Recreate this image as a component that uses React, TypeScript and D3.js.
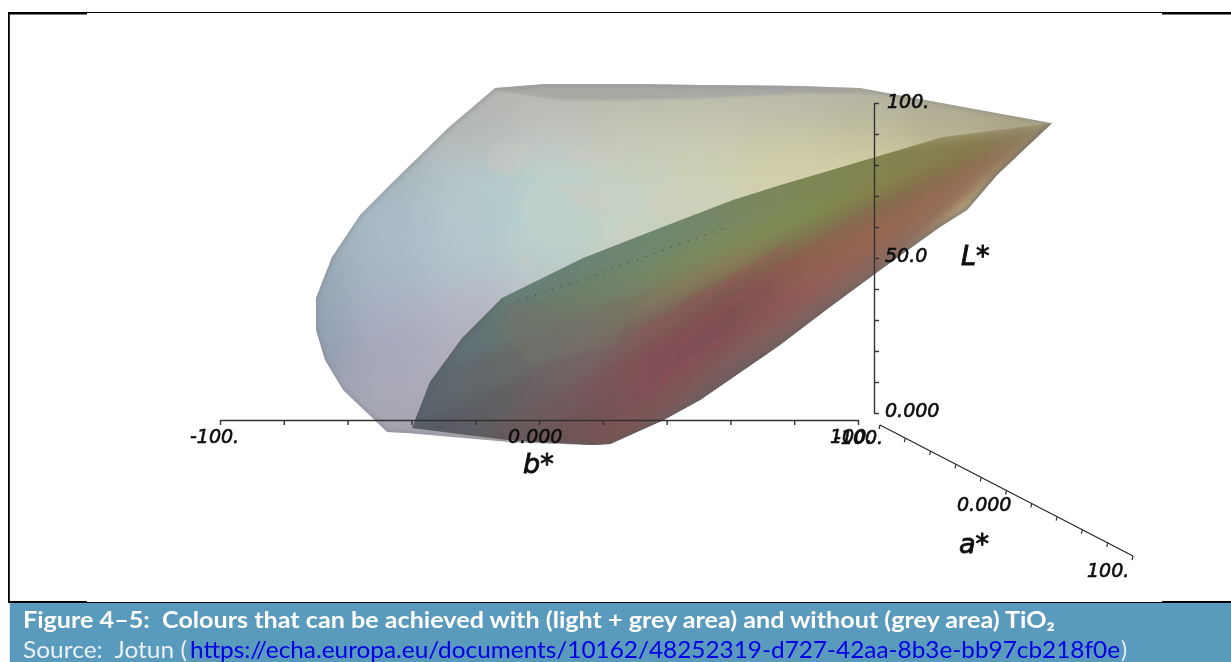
import * as d3 from 'd3'
import {useRef, useEffect} from 'react'

const svgWidth = 1231
const svgHeight = 662

// axis tick values
const bTicks = d3.range(-100, 101, 20)
const lTicks = d3.range(0, 101, 10)
const aTicks = d3.range(-100, 101, 20)

// outline of the light + grey body, [b*, L*] as read against the two front axes
const lightOutline: [number, number][] = [
  [-13.8,104.8],[-6,105.5],[1.9,106.1],[31.7,106.1],[50.5,105.8],[81.8,105.5],[100.6,104.8],[109.1,103.2],
  [160.8,93.5],[143.6,76.8],[134.2,65.5],[125.7,60],[107.8,46.8],[91.2,34.2],[75.5,21.9],[50.5,4.2],[38.9,-2.3],
  [22.3,-10],[16,-10.3],[-8.2,-9.4],[-40.4,-6.5],[-47.6,-6.1],[-61.4,7.4],[-67.1,17.1],[-69.9,26.8],[-69.9,37.1],
  [-64.9,50.3],[-56.1,63.9],[-45.8,74.5],[-28.5,91.9]
]
// grey body (no TiO2)
const greyOutline: [number, number][] = [
  [-11.6,37.1],[13.8,50],[42,61.3],[60.8,68.7],[75.5,73.5],[104.7,82.3],[126.6,89],[160.8,93.5],
  [143.6,76.8],[134.2,65.5],[125.7,60],[107.8,46.8],[91.2,34.2],[75.5,21.9],[50.5,4.2],[38.9,-2.3],
  [22.3,-10],[16.9,-10.3],[-10,-8.7],[-39.8,-4.8],[-34.2,10],[-24.1,24.2]
]
const greyLowerEdge: [number, number][] = [
  [160.8,93.5],[143.6,76.8],[134.2,65.5],[125.7,60],[107.8,46.8],[91.2,34.2],[75.5,21.9],[50.5,4.2],[38.9,-2.3],
  [22.3,-10],[16.9,-10.3],[-10,-8.7],[-39.8,-4.8],[-34.2,10],[-24.1,24.2],[-11.6,37.1]
]
const topBand: [number, number][] = [
  [-13.8,104.8],[-6,105.5],[1.9,106.1],[31.7,106.1],[50.5,105.8],[81.8,105.5],[109.1,103.2],
  [81.8,103],[50.5,101.5],[22,100.8],[6.5,101],[-13.8,104]
]

// colours of the light body on a b*/L* lattice
const lightB = [-75, -45, -20, 5, 30, 55, 80, 105, 130, 155]
const lightL = [105, 92, 79, 66, 53, 40, 27, 14, 0]
const lightColours = [
  ['#b4b4b2','#b4b4b2','#b4b4b2','#b8b8b2','#b8b8ae','#b8b8aa','#b8b6a8','#b4b2a2','#aeaa98','#aaa48c'],
  ['#a8b0b2','#a8b0b2','#b4b8b6','#bfc0ba','#c4c4b4','#c6c6b0','#c2c2a8','#bcbb9e','#b2ae92','#aaa488'],
  ['#a4b0b6','#a8b4b8','#b8c4c6','#c0d0cc','#c6d0c0','#ced0b4','#d2d0aa','#d4d0a4','#c8c290','#b0a680'],
  ['#9cacb6','#a8bcc6','#b2c8cc','#bed2cc','#c4d2c4','#ccd2ba','#d2d0aa','#d2d0aa','#c8c290','#b0a680'],
  ['#98a8b6','#aabbc8','#b4c6cc','#bcd0cc','#c6d2c0','#ccd0b8','#ccd0b8','#ccd0b8','#c8c290','#b0a680'],
  ['#96a6b4','#a8b4c4','#b4bcc8','#bcc4c6','#c0c8c0','#ccd0b8','#ccd0b8','#ccd0b8','#c8c290','#b0a680'],
  ['#92a2b2','#a8acc0','#b4b2c0','#b8b8c0','#b8b8c0','#b8b8c0','#b8b8c0','#b8b8c0','#b8b8c0','#b8b8c0'],
  ['#929cae','#a6a6b8','#acacba','#acacba','#acacba','#acacba','#acacba','#acacba','#acacba','#acacba'],
  ['#989cac','#a4a4b0','#a8a8b0','#a8a8b0','#a8a8b0','#a8a8b0','#a8a8b0','#a8a8b0','#a8a8b0','#a8a8b0'],
]

// faint facets on the light body
const paleFacets: [number, number][][] = [
  [[-15.4,87.1],[-1.9,87.1],[-8.2,75.2],[-16.3,78.4]],
  [[9.7,85.5],[26.9,85.8],[25.4,80.6],[8.8,80.6]],
  [[5.1,72.9],[21.4,72.9],[22.9,65.5],[15.1,65.5]],
  [[32.9,72.9],[43.6,72.9],[48.6,63.2],[36,61.3]],
  [[24.1,61.3],[31.3,61.3],[30.7,54.8],[24.4,52]],
  [[-5.9,50],[-0.6,51.3],[-5.9,46.1]],
]
const tealFacet: [number, number][] = [[-18.8,78.4],[0,76.5],[-6,69],[-6,60],[-18.8,56]]

// grey body is painted as fans running out of the white point
const tipPoint: [number, number] = [160.8, 93.5]
const fanEnds = [70, 36.5, 22, 7.4, -7, -21.6, -36, -50.6, -65, -100] // L* where each ray meets b* = -45
const fanEndB = -45
const fanStops = [-40, -15, 10, 35, 60, 85, 110, 135, 160]
const fanColours = [
  ['#647d78','#647d78','#698273','#6e876e','#788764','#7d8755','#828250','#877d50','#8c8260'],
  ['#647d78','#647d78','#698273','#6e876e','#788764','#7d8755','#828250','#877d50','#8c8260'],
  ['#5a6973','#647373','#6e7d69','#738764','#7d8c5a','#7d8c50','#87824b','#82784b','#8c8260'],
  ['#586470','#646969','#706e69','#7d785f','#877d55','#7d7d50','#82734b','#87734b','#8c8260'],
  ['#555a64','#5f5f64','#736464','#7d5f5a','#825a50','#876450','#876950','#8c6e50','#8c7a5c'],
  ['#555a64','#645a5a','#735a5c','#825055','#7d5050','#915f50','#916950','#916c50','#8c7a5c'],
  ['#5f5a5f','#6e5555','#6e5555','#825058','#7d5055','#915f55','#966950','#966e55','#8c7a5c'],
  ['#6e5555','#6e5555','#735555','#7d5555','#825a5a','#915a55','#966955','#9b735a','#8c7a5c'],
  ['#6e5a5a','#6e5a5a','#6e5a5a','#735f5f','#735f5f','#7d645f','#87695f','#96735a','#8c7a5c'],
]

// brownish facet under the green part and the red streaks
const brownFacet: [number, number][] = [[-9.1,35.5],[22.3,34.2],[30,37],[23.8,22],[-2.8,15.5],[-12.2,26.8]]
const redStreaks: [number, number][][] = [
  [[81.8,50],[61,36],[44,22]],
  [[81.8,40],[60,26],[38,10]],
  [[78,54],[56,40],[30,24]],
]

// row of tiny dots close to the upper grey edge
const dotLine: [number, number][] = [[-6.6,36.1],[15,43.5],[47,55.6],[58,59.6]]

const captionTitle = 'Figure 4–5:\u00a0\u00a0Colours that can be achieved with (light + grey area) and without (grey area) TiO₂'
const captionSource = 'Source:\u00a0\u00a0Jotun ('
const captionLink = 'https://echa.europa.eu/documents/10162/48252319-d727-42aa-8b3e-bb97cb218f0e'

// text, left, baseline, size
const axisLabels: [string, number, number, number][] = [
  ['-100.', 190, 443, 19],
  ['0.000', 508, 443, 19],
  ['100.', 830, 443, 19],
  ['-100.', 834, 444, 19],
  ['100.', 887, 108, 19],
  ['50.0', 885, 262, 19],
  ['0.000', 885, 417, 19],
  ['0.000', 957, 511, 19],
  ['100.', 1087, 577, 19],
  ['b*', 523, 473, 27],
  ['L*', 961, 265, 27],
  ['a*', 959, 553, 27],
]

export default function App() {
  const svgRef = useRef<SVGSVGElement>(null)

  useEffect(() => {
    const SVG = d3.select(svgRef.current)
    SVG.selectAll('*').remove()

    const bScale = d3.scaleLinear().domain([-100, 100]).range([220, 858])
    const lScale = d3.scaleLinear().domain([0, 100]).range([413, 103])
    const aX = d3.scaleLinear().domain([-100, 100]).range([880, 1133])
    const aY = d3.scaleLinear().domain([-100, 100]).range([425, 556])

    const line = (pts: [number, number][]) =>
      d3.line()(pts.map(([b, l]) => [bScale(b), lScale(l)] as [number, number]))
    const path = (pts: [number, number][]) => line(pts) + 'Z'

    const defs = SVG.append('defs')
    const blur = (id: string, dev: number) =>
      defs.append('filter').attr('id', id)
        .attr('filterUnits', 'userSpaceOnUse')
        .attr('x', 0).attr('y', 0).attr('width', svgWidth).attr('height', svgHeight)
        .append('feGaussianBlur').attr('stdDeviation', dev)
    blur('blurBig', 20)
    blur('blurMid', 7)
    blur('blurEdge', 2)
    blur('blurSoft', 0.8)
    blur('blurFacet', 2.5)
    blur('blurText', 0.4)

    defs.append('clipPath').attr('id', 'clipLight').append('path').attr('d', path(lightOutline))
    defs.append('clipPath').attr('id', 'clipGrey').append('path').attr('d', path(greyOutline))

    // light body
    const light = SVG.append('g').attr('clip-path', 'url(#clipLight)')
    const cells = light.append('g').attr('filter', 'url(#blurBig)')
    const bPx = lightB.map(d => bScale(d))
    const lPx = lightL.map(d => lScale(d))
    const stepX = bPx[1] - bPx[0]
    const stepY = lPx[1] - lPx[0]
    lightColours.forEach((row, r) => {
      cells.selectAll(`rect.r${r}`)
        .data(row)
        .enter()
        .append('rect')
        .attr('x', (_d, c) => bPx[c] - stepX / 2 - (c === 0 ? 80 : 0))
        .attr('y', lPx[r] - stepY / 2 - (r === 0 ? 80 : 0))
        .attr('width', (_d, c) => stepX + 1 + (c === 0 ? 80 : 0) + (c === row.length - 1 ? 80 : 0))
        .attr('height', stepY + 1 + (r === 0 || r === lightColours.length - 1 ? 80 : 0))
        .attr('fill', d => d)
    })
    light.append('g').attr('filter', 'url(#blurSoft)')
      .selectAll('path')
      .data(paleFacets)
      .enter()
      .append('path')
      .attr('d', d => path(d))
      .attr('fill', '#d8c8c0')
      .attr('opacity', 0.22)
    light.append('path').attr('d', path(tealFacet)).attr('fill', '#a8cccc').attr('opacity', 0.25).attr('filter', 'url(#blurSoft)')
    light.append('path').attr('d', path(topBand)).attr('fill', '#aaa8a4').attr('filter', 'url(#blurSoft)')
    light.append('path').attr('d', path(lightOutline))
      .attr('fill', 'none').attr('stroke', '#808488').attr('stroke-width', 4).attr('opacity', 0.5)
      .attr('filter', 'url(#blurEdge)')

    // grey body
    const grey = SVG.append('g').attr('clip-path', 'url(#clipGrey)')
    const fans = grey.append('g').attr('filter', 'url(#blurMid)')
    fanColours.forEach((row, k) => {
      const id = `fan${k}`
      const grad = defs.append('linearGradient').attr('id', id)
        .attr('gradientUnits', 'userSpaceOnUse')
        .attr('x1', bScale(fanStops[0])).attr('x2', bScale(fanStops[fanStops.length - 1]))
        .attr('y1', 0).attr('y2', 0)
      grad.selectAll('stop').data(row).enter().append('stop')
        .attr('offset', (_d, i) => (fanStops[i] - fanStops[0]) / (fanStops[fanStops.length - 1] - fanStops[0]))
        .attr('stop-color', d => d)
      fans.append('path')
        .attr('d', path([tipPoint, [fanEndB, fanEnds[k]], [fanEndB, fanEnds[k + 1]]]))
        .attr('fill', `url(#${id})`)
        .attr('stroke', `url(#${id})`)
    })
    grey.append('path').attr('d', path(brownFacet))
      .attr('fill', '#77776a').attr('opacity', 0.4).attr('filter', 'url(#blurFacet)')
    grey.append('g').attr('filter', 'url(#blurEdge)')
      .selectAll('path')
      .data(redStreaks)
      .enter()
      .append('path')
      .attr('d', d => line(d))
      .attr('fill', 'none').attr('stroke', '#96505a').attr('stroke-width', 5).attr('opacity', 0.4)
    grey.append('path').attr('d', line(greyLowerEdge))
      .attr('fill', 'none').attr('stroke', '#5e5c60').attr('stroke-width', 4).attr('opacity', 0.55)
      .attr('filter', 'url(#blurEdge)')
    grey.append('path')
      .attr('d', line(dotLine))
      .attr('fill', 'none').attr('stroke', '#333').attr('stroke-width', 1).attr('stroke-dasharray', '1 8')

    // axes
    const axes = SVG.append('g').attr('filter', 'url(#blurText)')
    const bAxis = d3.axisBottom(bScale).tickValues(bTicks).tickSize(5).tickSizeOuter(0).tickFormat(() => '')
    const lAxis = d3.axisRight(lScale).tickValues(lTicks).tickSize(5).tickSizeOuter(0).tickFormat(() => '')
    const bG = axes.append('g').attr('transform', 'translate(0,420)').call(bAxis as any)
    const lG = axes.append('g').attr('transform', 'translate(874,0)').call(lAxis as any)
    bG.selectAll('path,line').attr('stroke', '#333').attr('stroke-width', 1.4)
    lG.selectAll('path,line').attr('stroke', '#333').attr('stroke-width', 1.4)

    const aG = axes.append('g').attr('stroke', '#222').attr('stroke-width', 1.1)
    aG.append('line')
      .attr('x1', aX(-100)).attr('y1', aY(-100))
      .attr('x2', aX(100)).attr('y2', aY(100))
    aG.selectAll('line.tick')
      .data(aTicks)
      .enter()
      .append('line')
      .attr('class', 'tick')
      .attr('x1', d => aX(d)).attr('x2', d => aX(d) - 1)
      .attr('y1', d => aY(d)).attr('y2', d => aY(d) + 4)

    // tick and axis labels
    SVG.append('g').attr('filter', 'url(#blurText)')
      .selectAll('text')
      .data(axisLabels)
      .enter()
      .append('text')
      .attr('x', d => d[1])
      .attr('y', d => d[2])
      .attr('font-size', d => d[3])
      .attr('font-family', '"DejaVu Sans", sans-serif')
      .attr('font-style', 'italic')
      .attr('fill', '#111')
      .attr('stroke', '#111')
      .attr('stroke-width', d => (d[3] > 20 ? 0.9 : 0.6))
      .text(d => d[0])

    // frame
    const frame: [number, number, number, number][] = [
      [8, 12, 79, 2.5], [87, 12, 1075, 1], [1162, 12, 69, 2.5],
      [8, 601, 79, 2], [87, 602, 1075, 1], [1162, 601, 69, 2],
      [8, 12, 1.8, 591],
    ]
    SVG.append('g').selectAll('rect').data(frame).enter().append('rect')
      .attr('x', d => d[0]).attr('y', d => d[1]).attr('width', d => d[2]).attr('height', d => d[3])
      .attr('fill', '#000')

    // caption
    SVG.append('rect').attr('x', 9.8).attr('y', 603).attr('width', svgWidth - 9.8).attr('height', 59).attr('fill', '#5a9abd')
    const caption = SVG.append('g').attr('font-family', 'Lato, sans-serif').attr('font-size', 23)
    caption.append('text').attr('x', 23).attr('y', 628).attr('fill', '#fff').attr('font-weight', 700)
      .attr('textLength', 1032).attr('lengthAdjust', 'spacingAndGlyphs').text(captionTitle)
    caption.append('text').attr('x', 23).attr('y', 658).attr('fill', '#e8f0f4')
      .attr('textLength', 164).attr('lengthAdjust', 'spacingAndGlyphs').text(captionSource)
    caption.append('text').attr('x', 190).attr('y', 658).attr('fill', '#0000e6')
      .attr('textLength', 930).attr('lengthAdjust', 'spacingAndGlyphs').text(captionLink)
    caption.append('text').attr('x', 1121).attr('y', 658).attr('fill', '#e8f0f4').text(')')
  }, [])

  return (
    <svg
      ref={svgRef}
      width={svgWidth}
      height={svgHeight}
      style={{position: 'absolute', left: 0, top: 0, background: '#fff'}}
    ></svg>
  )
}
